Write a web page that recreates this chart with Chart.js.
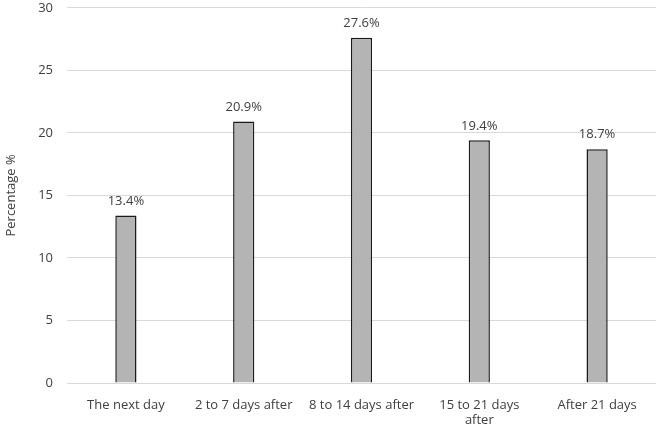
<!DOCTYPE html>
<html>
<head>
<meta charset="utf-8">
<script src="https://cdn.jsdelivr.net/npm/chart.js@4/dist/chart.umd.min.js"></script>
<style>
html,body{margin:0;padding:0;background:#fff;}
#wrap{width:660px;height:432px;}
</style>
</head>
<body>
<div id="wrap"><canvas id="c" width="660" height="432"></canvas></div>
<script>
const categories = ["The next day", "2 to 7 days after", "8 to 14 days after", ["15 to 21 days", "after"], "After 21 days"];
const values = [13.4, 20.9, 27.6, 19.4, 18.7];
const yTicks = [0, 5, 10, 15, 20, 25, 30];

const FONT = "'Open Sans', 'Liberation Sans', sans-serif";

const labelPlugin = {
  id: 'barLabels',
  afterDatasetsDraw(chart) {
    const ctx = chart.ctx;
    const meta = chart.getDatasetMeta(0);
    ctx.save();
    ctx.font = "13px " + FONT;
    ctx.fillStyle = "#404040";
    ctx.textAlign = "center";
    ctx.textBaseline = "bottom";
    meta.data.forEach((bar, i) => {
      ctx.fillText(values[i].toFixed(1) + "%", bar.x, bar.y - 8);
    });
    ctx.restore();
  }
};

new Chart(document.getElementById('c'), {
  type: 'bar',
  data: {
    labels: categories,
    datasets: [{
      data: values,
      backgroundColor: '#b4b4b4',
      borderColor: '#1a1a1a',
      borderWidth: 1.5,
      borderSkipped: 'bottom',
      barPercentage: 0.36,
      categoryPercentage: 0.5
    }]
  },
  options: {
    responsive: false,
    animation: false,
    layout: { padding: { left: 3, right: 4, top: 0, bottom: 0 } },
    plugins: { legend: { display: false }, tooltip: { enabled: false } },
    scales: {
      x: {
        grid: { display: false, drawTicks: false },
        border: { display: false },
        ticks: { color: '#404040', font: { family: FONT, size: 13 }, maxRotation: 0, autoSkip: false, padding: 14, lineHeight: 1.45 },
        afterFit(scale) { scale.height = 49; }
      },
      y: {
        min: 0, max: 30,
        afterBuildTicks(axis) { axis.ticks = yTicks.map(v => ({ value: v })); },
        grid: { color: '#d9d9d9', lineWidth: 1, drawTicks: true, tickLength: 14, tickColor: 'rgba(0,0,0,0)' },
        border: { display: false },
        ticks: { color: '#404040', font: { family: FONT, size: 13 }, padding: 0 },
        title: { display: true, text: 'Percentage %', color: '#404040', font: { family: FONT, size: 13 }, padding: { top: 0, bottom: 8 } },
        afterFit(scale) { scale.width = 64; }
      }
    }
  },
  plugins: [labelPlugin]
});
</script>
</body>
</html>
